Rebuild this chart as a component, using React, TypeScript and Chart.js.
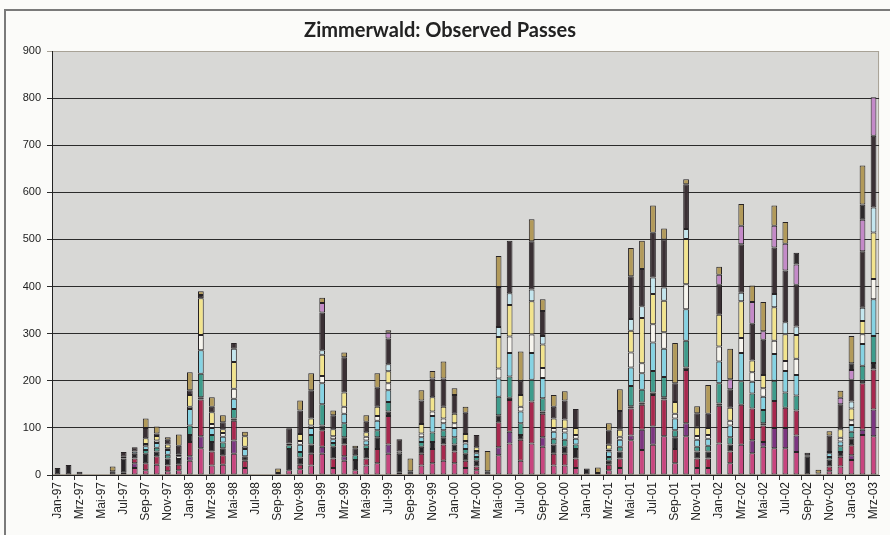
import React, { useEffect, useRef } from 'react';
import { Chart, registerables } from 'chart.js';
Chart.register(...registerables);

const MONTH_NAMES = ['Jan', 'Feb', 'Mrz', 'Apr', 'Mai', 'Jun', 'Jul', 'Aug', 'Sep', 'Okt', 'Nov', 'Dez'];
const YEARS = ['97', '98', '99', '00', '01', '02', '03'];
const LAST_MONTH_COUNT = 3; // Jan-03 .. Mrz-03

const categories: string[] = [];
YEARS.forEach((y, yi) => {
  const n = yi === YEARS.length - 1 ? LAST_MONTH_COUNT : 12;
  for (let m = 0; m < n; m++) categories.push(`${MONTH_NAMES[m]}-${y}`);
});

const yTicks = [0, 100, 200, 300, 400, 500, 600, 700, 800, 900];

// stacked segments, bottom to top
const pink = [
  0, 0, 0, 0, 0, 0, 5, 15, 10, 22, 8, 10,
  30, 57, 20, 22, 45, 15, 0, 0, 0, 10, 12, 20,
  45, 15, 30, 10, 20, 25, 45, 5, 0, 20, 25, 30,
  25, 15, 10, 0, 42, 67, 30, 67, 60, 20, 20, 15,
  0, 0, 10, 15, 74, 53, 64, 82, 25, 82, 15, 15,
  67, 25, 64, 46, 60, 57, 57, 49, 0, 0, 8, 18,
  32, 85, 82,
];
const purple = [
  0, 0, 0, 0, 0, 0, 0, 10, 0, 0, 0, 0,
  10, 25, 0, 0, 28, 0, 0, 0, 0, 0, 0, 0,
  15, 0, 10, 0, 0, 0, 20, 0, 0, 0, 0, 0,
  0, 0, 0, 0, 17, 25, 0, 0, 20, 0, 0, 0,
  0, 0, 0, 0, 10, 43, 39, 0, 0, 28, 0, 0,
  0, 0, 0, 28, 10, 43, 43, 35, 0, 0, 0, 0,
  10, 11, 57,
];
const crimson = [
  0, 0, 0, 0, 0, 0, 0, 10, 15, 18, 12, 12,
  30, 78, 30, 20, 42, 15, 0, 0, 0, 0, 10, 25,
  35, 20, 25, 0, 15, 30, 60, 0, 0, 25, 30, 35,
  25, 15, 8, 0, 53, 67, 45, 89, 50, 25, 25, 20,
  0, 0, 12, 20, 57, 53, 67, 78, 30, 113, 20, 20,
  80, 25, 85, 67, 35, 57, 43, 53, 0, 0, 10, 21,
  21, 99, 85,
];
const dark = [
  15, 21, 7, 0, 0, 8, 30, 10, 20, 10, 15, 12,
  15, 5, 20, 15, 5, 10, 0, 0, 4, 45, 15, 20,
  10, 25, 15, 22, 20, 25, 10, 40, 8, 15, 15, 15,
  15, 15, 12, 8, 15, 5, 10, 0, 5, 20, 15, 20,
  14, 4, 8, 15, 5, 5, 5, 5, 25, 5, 15, 15,
  5, 15, 0, 0, 5, 0, 0, 0, 40, 3, 15, 10,
  15, 5, 14,
];
const teal = [
  0, 0, 0, 0, 0, 0, 0, 0, 8, 8, 8, 0,
  20, 50, 15, 12, 20, 0, 0, 0, 0, 8, 12, 20,
  45, 8, 30, 10, 8, 15, 20, 0, 0, 10, 20, 15,
  15, 10, 8, 0, 39, 45, 25, 46, 28, 12, 15, 10,
  0, 0, 8, 10, 43, 27, 46, 43, 15, 57, 10, 12,
  43, 15, 50, 32, 28, 43, 32, 32, 0, 0, 5, 12,
  14, 32, 57,
];
const cyan = [
  0, 0, 0, 0, 0, 0, 4, 5, 8, 10, 10, 0,
  35, 50, 15, 12, 22, 15, 0, 0, 0, 0, 15, 15,
  45, 8, 20, 0, 10, 20, 25, 0, 0, 10, 35, 15,
  20, 12, 8, 0, 39, 50, 25, 57, 43, 15, 15, 12,
  0, 0, 12, 15, 39, 35, 60, 60, 25, 67, 15, 15,
  46, 25, 60, 25, 28, 57, 46, 43, 0, 0, 8, 10,
  14, 46, 78,
];
const white = [
  0, 0, 0, 0, 0, 0, 0, 0, 5, 5, 4, 6,
  5, 32, 8, 8, 21, 5, 0, 0, 0, 4, 8, 5,
  15, 6, 15, 0, 8, 10, 15, 5, 0, 8, 10, 10,
  10, 5, 5, 0, 21, 35, 10, 39, 21, 8, 8, 8,
  0, 0, 4, 6, 32, 21, 39, 35, 10, 53, 8, 8,
  32, 10, 32, 20, 18, 28, 21, 35, 2, 0, 3, 8,
  10, 21, 43,
];
const yellow = [
  0, 0, 0, 0, 0, 0, 0, 0, 12, 10, 8, 4,
  25, 78, 25, 8, 57, 22, 0, 0, 0, 0, 15, 15,
  45, 15, 30, 0, 10, 20, 25, 0, 0, 20, 30, 25,
  20, 15, 8, 0, 67, 67, 25, 71, 50, 20, 20, 15,
  0, 0, 10, 15, 46, 96, 64, 67, 25, 96, 18, 15,
  67, 28, 78, 25, 28, 71, 57, 50, 0, 0, 0, 18,
  25, 28, 99,
];
const lightBlue = [
  0, 0, 0, 0, 0, 0, 0, 0, 0, 0, 0, 0,
  0, 0, 0, 0, 28, 0, 0, 0, 0, 0, 0, 0,
  10, 0, 0, 0, 0, 0, 15, 0, 0, 0, 0, 0,
  0, 0, 0, 0, 21, 25, 0, 25, 18, 0, 0, 0,
  0, 0, 0, 0, 25, 25, 35, 28, 0, 21, 0, 0,
  0, 0, 18, 0, 0, 28, 25, 18, 0, 0, 0, 0,
  15, 28, 53,
];
const dark2 = [
  0, 0, 0, 0, 0, 0, 10, 9, 22, 5, 10, 18,
  10, 7, 12, 15, 12, 0, 0, 0, 0, 32, 50, 60,
  80, 30, 75, 15, 22, 40, 55, 26, 0, 50, 40, 60,
  40, 45, 26, 0, 85, 111, 30, 102, 53, 25, 40, 40,
  0, 0, 30, 40, 91, 79, 95, 102, 40, 95, 30, 30,
  64, 39, 103, 78, 75, 99, 110, 89, 5, 0, 35, 53,
  46, 120, 152,
];
const lavender = [
  0, 0, 0, 0, 0, 0, 0, 0, 0, 0, 0, 0,
  0, 0, 0, 0, 0, 0, 0, 0, 0, 0, 0, 0,
  20, 0, 0, 0, 0, 0, 12, 0, 0, 0, 0, 0,
  0, 0, 0, 0, 0, 0, 0, 0, 0, 0, 0, 0,
  0, 0, 0, 0, 0, 0, 0, 0, 0, 0, 0, 0,
  21, 21, 39, 46, 18, 46, 57, 43, 0, 0, 0, 14,
  21, 67, 82,
];
const darkTop = [
  0, 0, 0, 0, 0, 0, 0, 0, 0, 0, 0, 0,
  0, 0, 0, 0, 0, 0, 0, 0, 0, 0, 0, 0,
  0, 0, 0, 0, 0, 0, 0, 0, 0, 0, 0, 0,
  0, 0, 0, 0, 0, 0, 0, 0, 0, 0, 0, 0,
  0, 0, 0, 0, 0, 0, 0, 0, 0, 0, 0, 0,
  0, 0, 0, 0, 0, 0, 0, 25, 0, 0, 0, 0,
  14, 32, 0,
];
const tan = [
  0, 0, 0, 0, 0, 10, 0, 0, 20, 15, 5, 24,
  38, 8, 20, 15, 0, 10, 0, 0, 10, 0, 21, 36,
  11, 10, 10, 5, 14, 31, 5, 0, 27, 22, 16, 36,
  14, 13, 0, 43, 66, 0, 62, 47, 25, 25, 20, 0,
  0, 12, 16, 46, 60, 60, 58, 23, 85, 11, 15, 61,
  17, 65, 46, 35, 62, 43, 46, 0, 0, 8, 9, 15,
  58, 83, 0,
];

const SERIES: [string, number[], string][] = [
  ['S1', pink, '#c8457f'],
  ['S2', purple, '#7d3580'],
  ['S3', crimson, '#a8284e'],
  ['S4', dark, '#262326'],
  ['S5', teal, '#3e9c8c'],
  ['S6', cyan, '#86d3e3'],
  ['S7', white, '#f7f5ee'],
  ['S8', yellow, '#f2e48e'],
  ['S9', lightBlue, '#c4e6ee'],
  ['S10', dark2, '#3a3034'],
  ['S11', lavender, '#c48ac8'],
  ['S12', darkTop, '#2e2a2c'],
  ['S13', tan, '#b29a5a'],
];

const plotBg = {
  id: 'plotBg',
  beforeDraw(chart: any) {
    const { ctx, chartArea: a } = chart;
    ctx.save();
    ctx.fillStyle = '#d8d8d6';
    ctx.fillRect(a.left, a.top, a.right - a.left, a.bottom - a.top);
    ctx.strokeStyle = '#a8a296';
    ctx.lineWidth = 1;
    ctx.strokeRect(a.left + 0.5, a.top + 0.5, a.right - a.left - 1, a.bottom - a.top - 1);
    ctx.restore();
  },
};

export default function App() {
  const ref = useRef<HTMLCanvasElement | null>(null);
  useEffect(() => {
    document.body.style.margin = '0';
    const canvas = ref.current;
    if (!canvas) return;
    const chart = new Chart(canvas, {
      type: 'bar',
      data: {
        labels: categories,
        datasets: SERIES.map(([label, values, color]) => ({
          label,
          data: values.map((v) => (v === 0 ? null : v)),
          backgroundColor: color,
          borderColor: '#262224',
          borderWidth: 1,
          borderSkipped: false,
          barPercentage: 0.52,
          categoryPercentage: 1,
        })),
      },
      options: {
        animation: false,
        responsive: false,
        devicePixelRatio: 1,
        layout: { padding: { left: 0, right: 10, top: 10, bottom: 0 } },
        plugins: {
          legend: { display: false },
          tooltip: { enabled: false },
          title: {
            display: true,
            text: 'Zimmerwald: Observed Passes',
            color: '#222',
            font: { family: 'Lato', size: 20, weight: 'bold' },
            padding: { top: 9, bottom: 8 },
          },
        },
        scales: {
          x: {
            stacked: true,
            grid: {
              offset: true,
              drawOnChartArea: false,
              tickLength: 5,
              color: (c: any) => (c.index % 2 === 0 ? '#333' : 'rgba(0,0,0,0)'),
            },
            border: { display: true, color: '#222' },
            ticks: {
              autoSkip: false,
              maxRotation: 90,
              minRotation: 90,
              padding: 2,
              color: '#222',
              font: { family: 'Liberation Sans', size: 12 },
              callback: (_v: any, i: number) => (i % 2 === 0 ? categories[i] : ''),
            },
            afterFit: (s: any) => {
              s.height = 60;
            },
          },
          y: {
            stacked: true,
            min: 0,
            max: 900,
            afterBuildTicks: (s: any) => {
              s.ticks = yTicks.map((v) => ({ value: v }));
            },
            grid: {
              tickLength: 5,
              color: (c: any) => (c.tick && c.tick.value === 900 ? '#a8a296' : '#2b2b2b'),
            },
            border: { display: true, color: '#222' },
            ticks: {
              color: '#222',
              padding: 6,
              font: { family: 'Liberation Sans', size: 11 },
            },
            afterFit: (s: any) => {
              s.width = 52;
            },
          },
        },
      },
      plugins: [plotBg],
    });
    return () => chart.destroy();
  }, []);

  return (
    <div style={{ position: 'relative', width: 890, height: 535, background: '#fbfbf9', overflow: 'hidden' }}>
      <canvas ref={ref} width={890} height={535} style={{ display: 'block', width: 890, height: 535 }} />
      <div
        style={{
          position: 'absolute',
          left: 4,
          top: 9,
          width: 1000,
          height: 700,
          border: '2px solid #7a7a7a',
          pointerEvents: 'none',
        }}
      />
    </div>
  );
}
